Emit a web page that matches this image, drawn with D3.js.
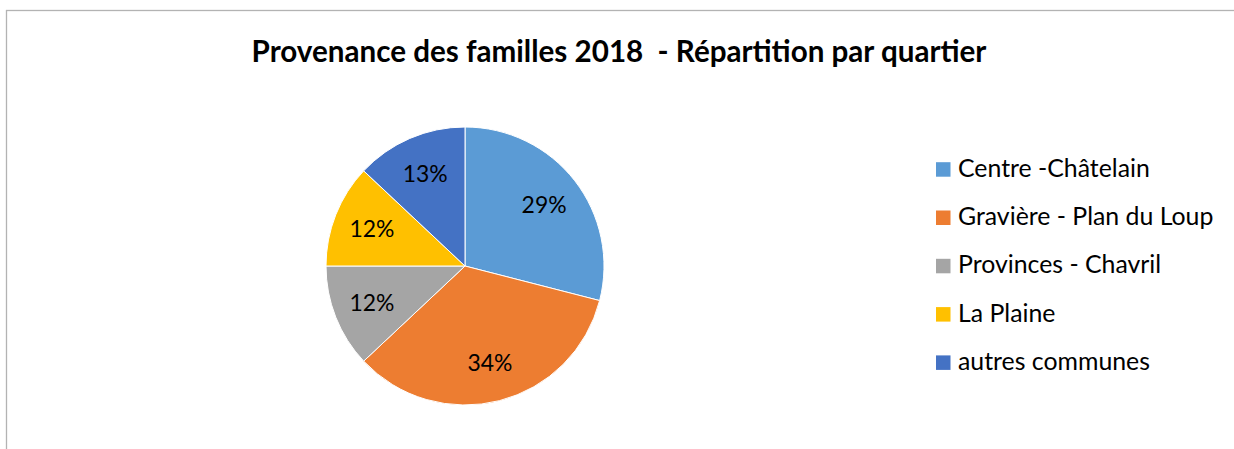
<!DOCTYPE html>
<html>
  <head>
    <style>
      body { margin: 0; background: #fff; }
      svg text { font-family: Lato, "Open Sans", sans-serif; }
    </style>
  </head>
  <body>
    <div id="my_dataviz"></div>
  </body>
</html>

<script src="https://d3js.org/d3.v7.min.js"></script>

<script>

    // data
    var categories = ["Centre -Châtelain", "Gravière - Plan du Loup", "Provinces - Chavril", "La Plaine", "autres communes"];
    var values = [29, 34, 12, 12, 13];
    var colors = ["#5B9BD5", "#ED7D31", "#A5A5A5", "#FFC000", "#4472C4"];
    var title = "Provenance des familles 2018  - Répartition par quartier";

    var width = 1234, height = 449;
    var cx = 465, cy = 266, radius = 139;

    var svg = d3.select("#my_dataviz")
      .append("svg")
        .attr("width", width)
        .attr("height", height);

    // chart frame (top and left edges are the visible ones)
    svg.append("rect")
      .attr("x", 6.5).attr("y", 10.5)
      .attr("width", 1240).attr("height", 500)
      .attr("fill", "none")
      .attr("stroke", "#b3b3b3")
      .attr("stroke-width", 1.3);

    // shrink / grow a text so it spans a given width
    function fitWidth(sel, target) {
      var fs = parseFloat(sel.attr("font-size"));
      var w = sel.node().getComputedTextLength();
      sel.attr("font-size", fs * target / w);
    }

    var t = svg.append("text")
      .attr("x", 619).attr("y", 62)
      .attr("text-anchor", "middle")
      .attr("font-size", 26)
      .attr("font-weight", "bold")
      .attr("fill", "#000")
      .style("white-space", "pre")
      .text(title);
    fitWidth(t, 735);

    // Pie
    var pie = d3.pie().sort(null).value(function(d) { return d; });
    var arc = d3.arc().innerRadius(0).outerRadius(radius);
    var labelArc = d3.arc().innerRadius(radius * 0.72).outerRadius(radius * 0.72);

    var g = svg.append("g")
      .attr("transform", "translate(" + cx + "," + cy + ")");

    var arcs = pie(values);

    g.selectAll("path")
      .data(arcs)
      .enter()
      .append("path")
        .attr("d", arc)
        .attr("fill", function(d, i) { return colors[i]; })
        .attr("stroke", "#fff")
        .attr("stroke-width", 1);

    var labels = g.selectAll(".lbl")
      .data(arcs)
      .enter()
      .append("text")
        .attr("class", "lbl")
        .attr("transform", function(d) { return "translate(" + labelArc.centroid(d) + ")"; })
        .attr("dy", "0.35em")
        .attr("text-anchor", "middle")
        .attr("font-size", 21)
        .attr("fill", "#000")
        .text(function(d) { return d.data + "%"; });

    // Legend
    var legend = svg.selectAll(".leg")
      .data(categories)
      .enter()
      .append("g")
        .attr("class", "leg")
        .attr("transform", function(d, i) { return "translate(936," + (176.7 + i * 48.3) + ")"; });

    legend.append("rect")
      .attr("x", 0).attr("y", -14.5)
      .attr("width", 14.5).attr("height", 14.5)
      .attr("fill", function(d, i) { return colors[i]; });

    var legText = legend.append("text")
      .attr("x", 22).attr("y", 0)
      .attr("font-size", 21)
      .attr("fill", "#000")
      .text(function(d) { return d; });

    // scale legend font so "autres communes" spans like the reference
    var w = legText.nodes()[4].getComputedTextLength();
    legText.attr("font-size", 21 * 192 / w);

    var lw = labels.nodes()[0].getComputedTextLength();
    labels.attr("font-size", 21 * 45 / lw);

</script>
